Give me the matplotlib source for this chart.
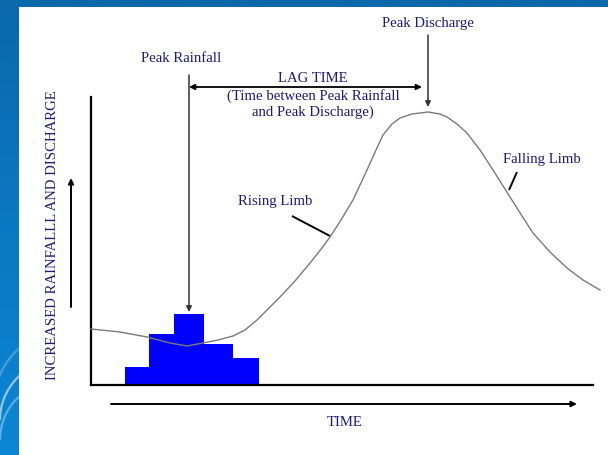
import numpy as np
import matplotlib
matplotlib.use("Agg")
import matplotlib.pyplot as plt
from matplotlib.colors import LinearSegmentedColormap
from matplotlib.patches import Rectangle, Arc

# Rainfall blocks (time bin edges and rainfall amount per bin, arbitrary units)
rain_edges = [34, 58, 83, 113, 142, 168]
rain_amount = [18, 51, 71, 41, 27]

# Storm hydrograph (time, discharge), arbitrary units
flow_time = [0, 29, 56, 79, 96, 112, 127, 142, 154, 166, 177, 189, 204, 219,
             231, 239, 250, 262, 276, 285, 292, 301, 309, 321, 337, 349, 356,
             366, 376, 389, 402, 419, 431, 442, 459, 476, 492, 509]
flow_q = [56, 53, 48, 42, 39, 42, 45, 49, 55, 65, 76, 88, 104, 122,
          137, 148, 165, 185, 215, 235, 250, 261, 267, 271, 273, 271, 268,
          261, 252, 235, 215, 188, 169, 152, 133, 117, 105, 95]

TEXT = "#1c1c74"
FONT = "Liberation Serif"
FS = 10.6

fig = plt.figure(figsize=(6.08, 4.55), dpi=100)

# slide background: blue frame with white panel
bg = fig.add_axes([0, 0, 1, 1])
bg.set_xlim(0, 608)
bg.set_ylim(455, 0)
bg.axis("off")
cmap = LinearSegmentedColormap.from_list("slide", ["#0a68ab", "#0a78c2", "#0a86d3"])
bg.imshow(np.linspace(0, 1, 256).reshape(-1, 1), cmap=cmap,
          extent=[0, 608, 455, 0], aspect="auto", zorder=0)
for (cx, cy, w, h, a) in [(60, 420, 120, 120, 0.55), (50, 440, 100, 110, 0.35),
                          (70, 400, 150, 140, 0.25)]:
    bg.add_patch(Arc((cx, cy), w, h, theta1=180, theta2=260,
                     color="white", lw=1.6, alpha=a, zorder=1))
bg.add_patch(Rectangle((19, 7), 589, 448, fc="white", ec="none", zorder=2))

# hydrograph axes
ax = fig.add_axes([91 / 608, 70 / 455, 502 / 608, 288 / 455])
ax.set_xlim(0, 502)
ax.set_ylim(0, 288)
ax.patch.set_alpha(0)
for s in ("top", "right"):
    ax.spines[s].set_visible(False)
for s in ("left", "bottom"):
    ax.spines[s].set_linewidth(1.6)
    ax.spines[s].set_color("black")
ax.set_xticks([])
ax.set_yticks([])

ax.bar(rain_edges[:-1], rain_amount, width=np.diff(rain_edges), align="edge",
       color="#0000ff", edgecolor="none", zorder=2)
ax.plot(flow_time, flow_q, color="#7a7a7a", lw=1.0, zorder=3, clip_on=False)

# peak positions
i_rain = int(np.argmax(rain_amount))
t_rain = (rain_edges[i_rain] + rain_edges[i_rain + 1]) / 2
i_flow = int(np.argmax(flow_q))
t_flow = flow_time[i_flow]

arrow = dict(arrowstyle="-|>", color="black", lw=1.1, mutation_scale=8,
             shrinkA=0, shrinkB=0)

# Peak Rainfall pointer
ax.annotate("", xy=(t_rain, rain_amount[i_rain] + 2), xytext=(t_rain, 310),
            arrowprops=dict(arrow, color="#333333"), annotation_clip=False)
ax.text(t_rain - 8, 327, "Peak Rainfall", ha="center", va="center",
        fontsize=FS, family=FONT, color=TEXT, clip_on=False)

# Peak Discharge pointer
ax.annotate("", xy=(t_flow, flow_q[i_flow] + 5), xytext=(t_flow, 350),
            arrowprops=dict(arrow, color="#333333"), annotation_clip=False)
ax.text(t_flow, 362, "Peak Discharge", ha="center", va="center",
        fontsize=FS, family=FONT, color=TEXT, clip_on=False)

# Lag time
ax.annotate("", xy=(t_flow - 6, 298), xytext=(t_rain, 298),
            arrowprops=dict(arrowstyle="<|-|>", color="black", lw=1.3,
                            mutation_scale=8, shrinkA=0, shrinkB=0),
            annotation_clip=False)
ax.text(222, 306, "LAG TIME", ha="center", va="center",
        fontsize=FS, family=FONT, color=TEXT, clip_on=False)
ax.text(222, 289, "(Time between Peak Rainfall", ha="center", va="center",
        fontsize=FS, family=FONT, color=TEXT, clip_on=False)
ax.text(222, 273, "and Peak Discharge)", ha="center", va="center",
        fontsize=FS, family=FONT, color=TEXT, clip_on=False)

# limb labels
ax.plot([201, 239], [169, 149], color="black", lw=1.4, solid_capstyle="butt")
ax.text(184, 183, "Rising Limb", ha="center", va="center",
        fontsize=FS, family=FONT, color=TEXT)
ax.plot([426, 418], [213, 195], color="black", lw=1.4, solid_capstyle="butt",
        clip_on=False)
ax.text(451, 225, "Falling Limb", ha="center", va="center",
        fontsize=FS, family=FONT, color=TEXT, clip_on=False)

# axis direction arrows and titles
ax.annotate("", xy=(486, -19), xytext=(20, -19),
            arrowprops=dict(arrow, lw=1.4), annotation_clip=False)
ax.text(254, -37, "TIME", ha="center", va="center",
        fontsize=FS, family=FONT, color=TEXT, clip_on=False)
ax.annotate("", xy=(-20, 207), xytext=(-20, 78),
            arrowprops=dict(arrow, lw=1.4), annotation_clip=False)
ax.text(-38, 150, "INCREASED RAINFALLL AND DISCHARGE", rotation=90,
        ha="center", va="center", fontsize=FS, family=FONT, color=TEXT,
        clip_on=False)

fig.savefig("out.png", dpi=100)
